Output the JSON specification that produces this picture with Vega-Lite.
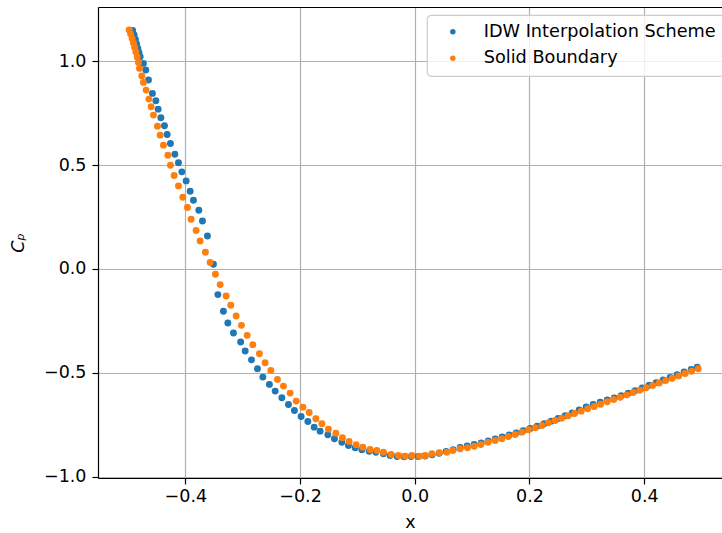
{
  "$schema": "https://vega.github.io/schema/vega-lite/v6.json",
  "width": 624,
  "height": 471,
  "autosize": "none",
  "padding": {"left": 98, "top": 7, "right": 0, "bottom": 55},
  "background": "white",
  "data": {"values": [
    {"series": "IDW Interpolation Scheme", "x": -0.4919, "y": 1.1485},
    {"series": "IDW Interpolation Scheme", "x": -0.4893, "y": 1.1268},
    {"series": "IDW Interpolation Scheme", "x": -0.4870, "y": 1.1051},
    {"series": "IDW Interpolation Scheme", "x": -0.4849, "y": 1.0834},
    {"series": "IDW Interpolation Scheme", "x": -0.4828, "y": 1.0617},
    {"series": "IDW Interpolation Scheme", "x": -0.4809, "y": 1.0424},
    {"series": "IDW Interpolation Scheme", "x": -0.4788, "y": 1.0222},
    {"series": "IDW Interpolation Scheme", "x": -0.4731, "y": 0.9903},
    {"series": "IDW Interpolation Scheme", "x": -0.4689, "y": 0.9580},
    {"series": "IDW Interpolation Scheme", "x": -0.4643, "y": 0.9098},
    {"series": "IDW Interpolation Scheme", "x": -0.4574, "y": 0.8457},
    {"series": "IDW Interpolation Scheme", "x": -0.4514, "y": 0.8100},
    {"series": "IDW Interpolation Scheme", "x": -0.4474, "y": 0.7699},
    {"series": "IDW Interpolation Scheme", "x": -0.4427, "y": 0.7280},
    {"series": "IDW Interpolation Scheme", "x": -0.4364, "y": 0.6894},
    {"series": "IDW Interpolation Scheme", "x": -0.4317, "y": 0.6479},
    {"series": "IDW Interpolation Scheme", "x": -0.4260, "y": 0.6045},
    {"series": "IDW Interpolation Scheme", "x": -0.4183, "y": 0.5529},
    {"series": "IDW Interpolation Scheme", "x": -0.4120, "y": 0.5119},
    {"series": "IDW Interpolation Scheme", "x": -0.4061, "y": 0.4676},
    {"series": "IDW Interpolation Scheme", "x": -0.3986, "y": 0.4242},
    {"series": "IDW Interpolation Scheme", "x": -0.3916, "y": 0.3745},
    {"series": "IDW Interpolation Scheme", "x": -0.3859, "y": 0.3311},
    {"series": "IDW Interpolation Scheme", "x": -0.3765, "y": 0.2829},
    {"series": "IDW Interpolation Scheme", "x": -0.3702, "y": 0.2313},
    {"series": "IDW Interpolation Scheme", "x": -0.3615, "y": 0.1589},
    {"series": "IDW Interpolation Scheme", "x": -0.3510, "y": 0.0224},
    {"series": "IDW Interpolation Scheme", "x": -0.3433, "y": -0.1237},
    {"series": "IDW Interpolation Scheme", "x": -0.3336, "y": -0.2042},
    {"series": "IDW Interpolation Scheme", "x": -0.3259, "y": -0.2607},
    {"series": "IDW Interpolation Scheme", "x": -0.3161, "y": -0.3089},
    {"series": "IDW Interpolation Scheme", "x": -0.3036, "y": -0.3523},
    {"series": "IDW Interpolation Scheme", "x": -0.2957, "y": -0.3957},
    {"series": "IDW Interpolation Scheme", "x": -0.2847, "y": -0.4381},
    {"series": "IDW Interpolation Scheme", "x": -0.2743, "y": -0.4806},
    {"series": "IDW Interpolation Scheme", "x": -0.2649, "y": -0.5211},
    {"series": "IDW Interpolation Scheme", "x": -0.2534, "y": -0.5563},
    {"series": "IDW Interpolation Scheme", "x": -0.2434, "y": -0.5886},
    {"series": "IDW Interpolation Scheme", "x": -0.2317, "y": -0.6204},
    {"series": "IDW Interpolation Scheme", "x": -0.2202, "y": -0.6528},
    {"series": "IDW Interpolation Scheme", "x": -0.2098, "y": -0.6817},
    {"series": "IDW Interpolation Scheme", "x": -0.1981, "y": -0.7106},
    {"series": "IDW Interpolation Scheme", "x": -0.1864, "y": -0.7347},
    {"series": "IDW Interpolation Scheme", "x": -0.1754, "y": -0.7622},
    {"series": "IDW Interpolation Scheme", "x": -0.1650, "y": -0.7815},
    {"series": "IDW Interpolation Scheme", "x": -0.1515, "y": -0.7989},
    {"series": "IDW Interpolation Scheme", "x": -0.1400, "y": -0.8182},
    {"series": "IDW Interpolation Scheme", "x": -0.1271, "y": -0.8346},
    {"series": "IDW Interpolation Scheme", "x": -0.1156, "y": -0.8505},
    {"series": "IDW Interpolation Scheme", "x": -0.1039, "y": -0.8616},
    {"series": "IDW Interpolation Scheme", "x": -0.0922, "y": -0.8712},
    {"series": "IDW Interpolation Scheme", "x": -0.0795, "y": -0.8780},
    {"series": "IDW Interpolation Scheme", "x": -0.0678, "y": -0.8828},
    {"series": "IDW Interpolation Scheme", "x": -0.0546, "y": -0.8905},
    {"series": "IDW Interpolation Scheme", "x": -0.0429, "y": -0.8987},
    {"series": "IDW Interpolation Scheme", "x": -0.0307, "y": -0.9035},
    {"series": "IDW Interpolation Scheme", "x": -0.0185, "y": -0.9050},
    {"series": "IDW Interpolation Scheme", "x": -0.0063, "y": -0.9035},
    {"series": "IDW Interpolation Scheme", "x": 0.0059, "y": -0.9035},
    {"series": "IDW Interpolation Scheme", "x": 0.0181, "y": -0.9011},
    {"series": "IDW Interpolation Scheme", "x": 0.0303, "y": -0.8953},
    {"series": "IDW Interpolation Scheme", "x": 0.0425, "y": -0.8881},
    {"series": "IDW Interpolation Scheme", "x": 0.0548, "y": -0.8794},
    {"series": "IDW Interpolation Scheme", "x": 0.0670, "y": -0.8712},
    {"series": "IDW Interpolation Scheme", "x": 0.0792, "y": -0.8601},
    {"series": "IDW Interpolation Scheme", "x": 0.0914, "y": -0.8529},
    {"series": "IDW Interpolation Scheme", "x": 0.1036, "y": -0.8457},
    {"series": "IDW Interpolation Scheme", "x": 0.1158, "y": -0.8384},
    {"series": "IDW Interpolation Scheme", "x": 0.1280, "y": -0.8288},
    {"series": "IDW Interpolation Scheme", "x": 0.1402, "y": -0.8191},
    {"series": "IDW Interpolation Scheme", "x": 0.1524, "y": -0.8095},
    {"series": "IDW Interpolation Scheme", "x": 0.1646, "y": -0.7998},
    {"series": "IDW Interpolation Scheme", "x": 0.1768, "y": -0.7902},
    {"series": "IDW Interpolation Scheme", "x": 0.1890, "y": -0.7796},
    {"series": "IDW Interpolation Scheme", "x": 0.2012, "y": -0.7685},
    {"series": "IDW Interpolation Scheme", "x": 0.2134, "y": -0.7579},
    {"series": "IDW Interpolation Scheme", "x": 0.2256, "y": -0.7458},
    {"series": "IDW Interpolation Scheme", "x": 0.2378, "y": -0.7333},
    {"series": "IDW Interpolation Scheme", "x": 0.2500, "y": -0.7203},
    {"series": "IDW Interpolation Scheme", "x": 0.2623, "y": -0.7073},
    {"series": "IDW Interpolation Scheme", "x": 0.2745, "y": -0.6937},
    {"series": "IDW Interpolation Scheme", "x": 0.2867, "y": -0.6793},
    {"series": "IDW Interpolation Scheme", "x": 0.2989, "y": -0.6648},
    {"series": "IDW Interpolation Scheme", "x": 0.3111, "y": -0.6528},
    {"series": "IDW Interpolation Scheme", "x": 0.3233, "y": -0.6421},
    {"series": "IDW Interpolation Scheme", "x": 0.3355, "y": -0.6311},
    {"series": "IDW Interpolation Scheme", "x": 0.3477, "y": -0.6214},
    {"series": "IDW Interpolation Scheme", "x": 0.3599, "y": -0.6108},
    {"series": "IDW Interpolation Scheme", "x": 0.3721, "y": -0.5987},
    {"series": "IDW Interpolation Scheme", "x": 0.3843, "y": -0.5862},
    {"series": "IDW Interpolation Scheme", "x": 0.3965, "y": -0.5732},
    {"series": "IDW Interpolation Scheme", "x": 0.4087, "y": -0.5602},
    {"series": "IDW Interpolation Scheme", "x": 0.4209, "y": -0.5476},
    {"series": "IDW Interpolation Scheme", "x": 0.4331, "y": -0.5351},
    {"series": "IDW Interpolation Scheme", "x": 0.4453, "y": -0.5225},
    {"series": "IDW Interpolation Scheme", "x": 0.4575, "y": -0.5095},
    {"series": "IDW Interpolation Scheme", "x": 0.4697, "y": -0.4965},
    {"series": "IDW Interpolation Scheme", "x": 0.4820, "y": -0.4840},
    {"series": "IDW Interpolation Scheme", "x": 0.4924, "y": -0.4734},
    {"series": "Solid Boundary", "x": -0.4980, "y": 1.1510},
    {"series": "Solid Boundary", "x": -0.4954, "y": 1.1317},
    {"series": "Solid Boundary", "x": -0.4928, "y": 1.1100},
    {"series": "Solid Boundary", "x": -0.4905, "y": 1.0883},
    {"series": "Solid Boundary", "x": -0.4884, "y": 1.0665},
    {"series": "Solid Boundary", "x": -0.4863, "y": 1.0449},
    {"series": "Solid Boundary", "x": -0.4840, "y": 1.0207},
    {"series": "Solid Boundary", "x": -0.4818, "y": 0.9942},
    {"series": "Solid Boundary", "x": -0.4800, "y": 0.9662},
    {"series": "Solid Boundary", "x": -0.4759, "y": 0.9291},
    {"series": "Solid Boundary", "x": -0.4731, "y": 0.8987},
    {"series": "Solid Boundary", "x": -0.4684, "y": 0.8616},
    {"series": "Solid Boundary", "x": -0.4636, "y": 0.8182},
    {"series": "Solid Boundary", "x": -0.4596, "y": 0.7810},
    {"series": "Solid Boundary", "x": -0.4556, "y": 0.7410},
    {"series": "Solid Boundary", "x": -0.4486, "y": 0.6880},
    {"series": "Solid Boundary", "x": -0.4439, "y": 0.6446},
    {"series": "Solid Boundary", "x": -0.4382, "y": 0.5963},
    {"series": "Solid Boundary", "x": -0.4305, "y": 0.5481},
    {"series": "Solid Boundary", "x": -0.4260, "y": 0.4999},
    {"series": "Solid Boundary", "x": -0.4195, "y": 0.4502},
    {"series": "Solid Boundary", "x": -0.4120, "y": 0.4000},
    {"series": "Solid Boundary", "x": -0.4044, "y": 0.3455},
    {"series": "Solid Boundary", "x": -0.3963, "y": 0.2959},
    {"series": "Solid Boundary", "x": -0.3899, "y": 0.2394},
    {"series": "Solid Boundary", "x": -0.3812, "y": 0.1850},
    {"series": "Solid Boundary", "x": -0.3742, "y": 0.1348},
    {"series": "Solid Boundary", "x": -0.3650, "y": 0.0803},
    {"series": "Solid Boundary", "x": -0.3568, "y": 0.0306},
    {"series": "Solid Boundary", "x": -0.3475, "y": -0.0258},
    {"series": "Solid Boundary", "x": -0.3393, "y": -0.0755},
    {"series": "Solid Boundary", "x": -0.3289, "y": -0.1305},
    {"series": "Solid Boundary", "x": -0.3207, "y": -0.1753},
    {"series": "Solid Boundary", "x": -0.3114, "y": -0.2269},
    {"series": "Solid Boundary", "x": -0.3022, "y": -0.2718},
    {"series": "Solid Boundary", "x": -0.2922, "y": -0.3200},
    {"series": "Solid Boundary", "x": -0.2823, "y": -0.3648},
    {"series": "Solid Boundary", "x": -0.2708, "y": -0.4082},
    {"series": "Solid Boundary", "x": -0.2609, "y": -0.4517},
    {"series": "Solid Boundary", "x": -0.2509, "y": -0.4888},
    {"series": "Solid Boundary", "x": -0.2394, "y": -0.5322},
    {"series": "Solid Boundary", "x": -0.2289, "y": -0.5645},
    {"series": "Solid Boundary", "x": -0.2173, "y": -0.5983},
    {"series": "Solid Boundary", "x": -0.2068, "y": -0.6368},
    {"series": "Solid Boundary", "x": -0.1951, "y": -0.6658},
    {"series": "Solid Boundary", "x": -0.1841, "y": -0.6913},
    {"series": "Solid Boundary", "x": -0.1724, "y": -0.7217},
    {"series": "Solid Boundary", "x": -0.1620, "y": -0.7458},
    {"series": "Solid Boundary", "x": -0.1505, "y": -0.7719},
    {"series": "Solid Boundary", "x": -0.1376, "y": -0.7912},
    {"series": "Solid Boundary", "x": -0.1261, "y": -0.8134},
    {"series": "Solid Boundary", "x": -0.1144, "y": -0.8312},
    {"series": "Solid Boundary", "x": -0.1022, "y": -0.8471},
    {"series": "Solid Boundary", "x": -0.0905, "y": -0.8587},
    {"series": "Solid Boundary", "x": -0.0778, "y": -0.8698},
    {"series": "Solid Boundary", "x": -0.0661, "y": -0.8746},
    {"series": "Solid Boundary", "x": -0.0546, "y": -0.8828},
    {"series": "Solid Boundary", "x": -0.0412, "y": -0.8939},
    {"series": "Solid Boundary", "x": -0.0284, "y": -0.8987},
    {"series": "Solid Boundary", "x": -0.0167, "y": -0.9021},
    {"series": "Solid Boundary", "x": -0.0051, "y": -0.8987},
    {"series": "Solid Boundary", "x": 0.0082, "y": -0.9021},
    {"series": "Solid Boundary", "x": 0.0181, "y": -0.8987},
    {"series": "Solid Boundary", "x": 0.0298, "y": -0.8905},
    {"series": "Solid Boundary", "x": 0.0431, "y": -0.8857},
    {"series": "Solid Boundary", "x": 0.0560, "y": -0.8828},
    {"series": "Solid Boundary", "x": 0.0664, "y": -0.8746},
    {"series": "Solid Boundary", "x": 0.0792, "y": -0.8664},
    {"series": "Solid Boundary", "x": 0.0919, "y": -0.8616},
    {"series": "Solid Boundary", "x": 0.1036, "y": -0.8539},
    {"series": "Solid Boundary", "x": 0.1153, "y": -0.8457},
    {"series": "Solid Boundary", "x": 0.1275, "y": -0.8346},
    {"series": "Solid Boundary", "x": 0.1402, "y": -0.8264},
    {"series": "Solid Boundary", "x": 0.1519, "y": -0.8182},
    {"series": "Solid Boundary", "x": 0.1634, "y": -0.8071},
    {"series": "Solid Boundary", "x": 0.1751, "y": -0.7974},
    {"series": "Solid Boundary", "x": 0.1867, "y": -0.7863},
    {"series": "Solid Boundary", "x": 0.1983, "y": -0.7748},
    {"series": "Solid Boundary", "x": 0.2099, "y": -0.7651},
    {"series": "Solid Boundary", "x": 0.2216, "y": -0.7540},
    {"series": "Solid Boundary", "x": 0.2331, "y": -0.7410},
    {"series": "Solid Boundary", "x": 0.2448, "y": -0.7299},
    {"series": "Solid Boundary", "x": 0.2561, "y": -0.7188},
    {"series": "Solid Boundary", "x": 0.2675, "y": -0.7077},
    {"series": "Solid Boundary", "x": 0.2788, "y": -0.6962},
    {"series": "Solid Boundary", "x": 0.2902, "y": -0.6851},
    {"series": "Solid Boundary", "x": 0.3015, "y": -0.6740},
    {"series": "Solid Boundary", "x": 0.3128, "y": -0.6629},
    {"series": "Solid Boundary", "x": 0.3241, "y": -0.6518},
    {"series": "Solid Boundary", "x": 0.3355, "y": -0.6402},
    {"series": "Solid Boundary", "x": 0.3468, "y": -0.6291},
    {"series": "Solid Boundary", "x": 0.3582, "y": -0.6180},
    {"series": "Solid Boundary", "x": 0.3695, "y": -0.6069},
    {"series": "Solid Boundary", "x": 0.3808, "y": -0.5954},
    {"series": "Solid Boundary", "x": 0.3922, "y": -0.5843},
    {"series": "Solid Boundary", "x": 0.4035, "y": -0.5722},
    {"series": "Solid Boundary", "x": 0.4148, "y": -0.5611},
    {"series": "Solid Boundary", "x": 0.4262, "y": -0.5495},
    {"series": "Solid Boundary", "x": 0.4375, "y": -0.5380},
    {"series": "Solid Boundary", "x": 0.4488, "y": -0.5269},
    {"series": "Solid Boundary", "x": 0.4602, "y": -0.5153},
    {"series": "Solid Boundary", "x": 0.4715, "y": -0.5037},
    {"series": "Solid Boundary", "x": 0.4828, "y": -0.4926},
    {"series": "Solid Boundary", "x": 0.4942, "y": -0.4811}
  ]},
  "layer": [
    {
      "mark": {"type": "point", "filled": true, "size": 48, "opacity": 1, "strokeWidth": 0},
      "encoding": {
        "x": {
          "field": "x", "type": "quantitative",
          "scale": {"domain": [-0.5523, 0.5357], "nice": false, "zero": false},
          "axis": {"orient": "bottom", "values": [-0.4, -0.2, 0, 0.2, 0.4], "format": ".1f", "grid": true, "labelPadding": 3, "title": "x", "titlePadding": 9, "labelFlush": false}
        },
        "y": {
          "field": "y", "type": "quantitative",
          "scale": {"domain": [-1.0072, 1.2619], "nice": false, "zero": false},
          "axis": {"orient": "left", "values": [-1, -0.5, 0, 0.5, 1], "format": ".1f", "grid": true, "labelPadding": 6, "title": "Cₚ", "titleFontStyle": "italic", "titlePadding": 16, "labelFlush": false}
        },
        "color": {
          "field": "series", "type": "nominal",
          "scale": {"domain": ["IDW Interpolation Scheme", "Solid Boundary"], "range": ["#1f77b4", "#ff7f0e"]},
          "legend": {
            "title": null, "orient": "none", "legendX": 329, "legendY": 8,
            "padding": 8, "fillColor": "rgba(255,255,255,0.8)", "strokeColor": "#cccccc",
            "symbolType": "circle", "symbolSize": 30, "symbolOffset": 9,
            "labelOffset": 22, "rowPadding": 7.5, "labelLimit": 400, "zindex": 2
          }
        }
      }
    },
    {
      "mark": {"type": "point", "opacity": 0},
      "encoding": {
        "x": {
          "field": "x", "type": "quantitative",
          "scale": {"domain": [-0.5523, 0.5357], "nice": false, "zero": false},
          "axis": {"orient": "top", "labels": false, "ticks": false, "grid": false, "domain": true, "title": null}
        },
        "y": {
          "field": "y", "type": "quantitative",
          "scale": {"domain": [-1.0072, 1.2619], "nice": false, "zero": false}
        }
      }
    }
  ],
  "resolve": {"axis": {"x": "independent"}},
  "config": {
    "font": "DejaVu Sans",
    "view": {"stroke": null},
    "axis": {
      "domainColor": "black", "domainWidth": 1.2,
      "tickColor": "black", "tickWidth": 1.2, "tickSize": 6,
      "labelFont": "DejaVu Sans", "labelFontSize": 17.5, "labelColor": "black",
      "titleFont": "DejaVu Sans", "titleFontSize": 17.5, "titleFontWeight": "normal", "titleColor": "black",
      "gridColor": "#b0b0b0", "gridWidth": 1.2, "zindex": 1
    },
    "legend": {
      "labelFont": "DejaVu Sans", "labelFontSize": 17.7, "labelColor": "black",
      "strokeWidth": 1.2, "cornerRadius": 4
    }
  }
}
